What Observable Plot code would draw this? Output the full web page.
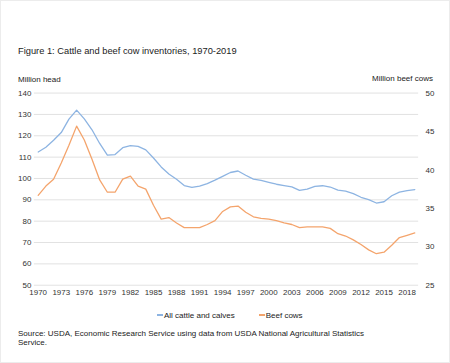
<!DOCTYPE html>
<html>
<head>
<meta charset="utf-8">
<script src="https://cdn.jsdelivr.net/npm/d3@7"></script>
<script src="https://cdn.jsdelivr.net/npm/@observablehq/plot@0.6"></script>
<style>
  html, body { margin: 0; padding: 0; background: #fff; }
  #wrap { position: relative; width: 450px; height: 363px; box-sizing: border-box; border: 1px solid #ececec; font-family: "Liberation Sans", Arial, sans-serif; color: #222; overflow: hidden; }
  #chart { position: absolute; left: -1px; top: -1px; }
  .t { position: absolute; white-space: nowrap; line-height: 1; }
  #title { left: 17px; top: 46px; font-size: 9.3px; }
  #lt { left: 17px; top: 75px; font-size: 8px; }
  #rt { right: 16px; top: 74px; font-size: 8px; }
  #legend { left: 156px; top: 311px; font-size: 8px; }
  #legend span.sw { display: inline-block; width: 6px; height: 1.3px; vertical-align: middle; margin-right: 1px; position: relative; top: -1px; }
  #legend span.item { margin-right: 24px; }
  #source { left: 17px; top: 328px; font-size: 8px; line-height: 1.15; white-space: normal; width: 370px; }
</style>
</head>
<body>
<div id="wrap">
  <div id="chart"></div>
  <div class="t" id="title">Figure 1: Cattle and beef cow inventories, 1970-2019</div>
  <div class="t" id="lt">Million head</div>
  <div class="t" id="rt">Million beef cows</div>
  <div class="t" id="legend"></div>
  <div class="t" id="source">Source: USDA, Economic Research Service using data from USDA National Agricultural Statistics Service.</div>
</div>
<script>
const years = d3.range(1970, 2020);
const allCattle = [112.4, 114.6, 117.9, 121.5, 127.8, 132.0, 127.9, 122.8, 116.4, 110.9,
  111.2, 114.4, 115.4, 115.0, 113.4, 109.6, 105.4, 102.1, 99.6, 96.7,
  95.8, 96.4, 97.6, 99.2, 101.0, 102.8, 103.5, 101.5, 99.7, 99.1,
  98.2, 97.3, 96.7, 96.1, 94.4, 95.0, 96.3, 96.6, 96.0, 94.5,
  94.1, 92.9, 91.2, 90.1, 88.5, 89.1, 91.9, 93.6, 94.3, 94.8];
const beefCows = [36.7, 37.9, 38.8, 40.9, 43.2, 45.7, 43.9, 41.4, 38.7, 37.1,
  37.1, 38.8, 39.2, 37.9, 37.5, 35.4, 33.6, 33.8, 33.1, 32.5,
  32.5, 32.5, 32.9, 33.4, 34.6, 35.2, 35.3, 34.5, 33.9, 33.7,
  33.6, 33.4, 33.1, 32.9, 32.5, 32.6, 32.6, 32.6, 32.4, 31.7,
  31.4, 30.9, 30.3, 29.6, 29.1, 29.3, 30.2, 31.2, 31.5, 31.8];
const leftTicks = [50, 60, 70, 80, 90, 100, 110, 120, 130, 140];
const rightTicks = [25, 30, 35, 40, 45, 50];
const xTicks = d3.range(1970, 2020, 3);
const seriesNames = ["All cattle and calves", "Beef cows"];
const colors = ["#8db4e2", "#f4a46c"];

// map right axis (beef cows) onto left scale
const toLeft = d3.scaleLinear([25, 50], [50, 140]);

const rows = [
  ...years.map((y, i) => ({year: y, value: allCattle[i], series: seriesNames[0]})),
  ...years.map((y, i) => ({year: y, value: toLeft(beefCows[i]), series: seriesNames[1]}))
];

const plot = Plot.plot({
  width: 451,
  height: 364,
  marginLeft: 34,
  marginRight: 31,
  marginTop: 93,
  marginBottom: 78,
  style: {fontFamily: "'Liberation Sans', Arial, sans-serif", fontSize: "8px", color: "#333", background: "transparent"},
  x: {domain: [1969.5, 2019.5]},
  y: {domain: [50, 140]},
  color: {domain: seriesNames, range: colors},
  marks: [
    Plot.gridY(leftTicks, {stroke: "#d9d9d9", strokeOpacity: 1, strokeWidth: 0.8}),
    Plot.axisY(leftTicks, {anchor: "left", tickSize: 0, tickPadding: 3, label: null, fill: "#333"}),
    Plot.axisY(rightTicks.map(toLeft), {anchor: "right", tickSize: 0, tickPadding: 7, label: null, textAnchor: "start", tickFormat: d => String(Math.round(toLeft.invert(d))), fill: "#333"}),
    Plot.axisX(xTicks, {anchor: "bottom", tickSize: 0, tickPadding: 4, label: null, tickFormat: d => String(d), fill: "#333"}),
    Plot.line(rows, {x: "year", y: "value", z: "series", stroke: "series", strokeWidth: 1.3})
  ]
});
document.getElementById("chart").appendChild(plot);

const legend = document.getElementById("legend");
seriesNames.forEach((name, i) => {
  const item = document.createElement("span");
  item.className = "item";
  const sw = document.createElement("span");
  sw.className = "sw";
  sw.style.background = colors[i];
  item.appendChild(sw);
  item.appendChild(document.createTextNode(name));
  legend.appendChild(item);
});
</script>
</body>
</html>
